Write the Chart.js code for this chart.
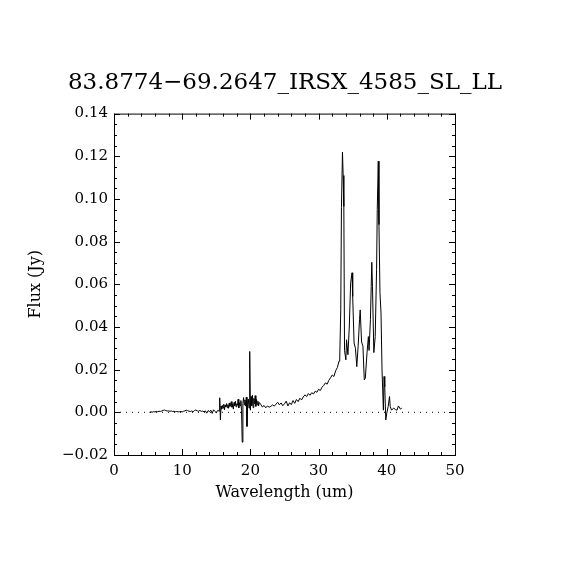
<!DOCTYPE html>
<html>
<head>
<meta charset="utf-8">
<script src="https://cdn.jsdelivr.net/npm/chart.js@4/dist/chart.umd.min.js"></script>
<style>
  html, body { margin: 0; padding: 0; background: #fff; }
  #chart { display: block; }
</style>
</head>
<body>
<canvas id="chart" width="570" height="570"></canvas>
<script>
// spectrum
const wavelength = [
    5.2, 5.4, 5.6, 5.8, 6.0, 6.2, 6.4, 6.6, 6.8, 7.0, 7.2, 7.4, 7.6, 7.8, 8.0, 8.2, 8.4, 8.6, 8.8, 9.0,
    9.2, 9.4, 9.6, 9.8, 10.0, 10.2, 10.4, 10.6, 10.8, 11.0, 11.2, 11.4, 11.6, 11.8, 12.0, 12.2, 12.4, 12.6,
    12.8, 13.0, 13.2, 13.4, 13.6, 13.8, 14.0, 14.2, 14.4, 14.6, 14.8, 15.0, 15.2, 15.4,
    15.5, 15.6, 15.7, 15.8, 15.9, 16.0, 16.1, 16.2, 16.3, 16.4, 16.5, 16.6, 16.7, 16.8, 16.9, 17.0,
    17.1, 17.2, 17.3, 17.4, 17.5, 17.6, 17.7, 17.8, 17.9, 18.0, 18.1, 18.2, 18.3, 18.4, 18.5, 18.6,
    18.7, 18.8, 18.9, 19.0, 19.1, 19.2, 19.3, 19.4, 19.5, 19.6, 19.7, 19.8, 19.9, 20.0, 20.1, 20.2,
    20.3, 20.4, 20.5, 20.6, 20.7, 20.8, 20.9, 21.0, 21.1, 21.2, 21.3,
    21.5, 21.75, 22.0, 22.25, 22.5, 22.75, 23.0, 23.25, 23.5, 23.75, 24.0, 24.25, 24.5, 24.75, 25.0,
    25.25, 25.5, 25.75, 26.0, 26.25, 26.5, 26.75, 27.0, 27.25, 27.5, 27.75, 28.0, 28.25, 28.5, 28.75,
    29.0, 29.25, 29.5, 29.75, 30.0, 30.25, 30.5, 30.75, 31.0, 31.25, 31.5, 31.75, 32.0, 32.25, 32.5,
    32.75, 33.0,
    33.1, 33.25, 33.35, 33.5, 33.6, 33.7, 33.8, 34.0, 34.1, 34.3, 34.5, 34.7, 34.9, 35.0, 35.2, 35.4,
    35.6, 35.8, 36.0, 36.1, 36.3, 36.5, 36.7, 36.85, 37.1, 37.3, 37.4, 37.6, 37.8, 37.9, 38.1, 38.3,
    38.5, 38.6, 38.75, 38.85, 39.0, 39.15, 39.3, 39.5, 39.6, 39.7, 39.85, 40.0, 40.2, 40.4, 40.5, 40.7,
    41.0, 41.3, 41.5, 41.7, 42.0, 42.2
];
const flux = [
    0.0000, 0.0002, 0.0001, 0.0003, 0.0002, 0.0004, 0.0003, 0.0005, 0.0004, 0.0006, 0.0009, 0.0011,
    0.0008, 0.0006, 0.0007, 0.0005, 0.0006, 0.0004, 0.0005, 0.0003, 0.0004, 0.0002, 0.0003, 0.0004,
    0.0002, 0.0005, 0.0007, 0.0010, 0.0008, 0.0005, 0.0004, 0.0006, 0.0003, 0.0008, 0.0011, 0.0007,
    0.0005, 0.0009, 0.0004, 0.0006, 0.0002, 0.0007, -0.0004, 0.0008, 0.0003, 0.0010, -0.0005, 0.0012,
    0.0004, -0.0002, 0.0009, 0.0006,
    0.0068, -0.0035, 0.0030, 0.0015, 0.0032, 0.0020, 0.0038, 0.0012, 0.0034, 0.0025, 0.0041, 0.0022,
    0.0036, 0.0019, 0.0044, 0.0028, 0.0035, 0.0050, 0.0024, 0.0039, 0.0015, 0.0046, 0.0030, 0.0052,
    0.0026, 0.0040, 0.0033, 0.0061, 0.0021, 0.0045, 0.0031, 0.0055, 0.0008, -0.0140, 0.0042, 0.0069,
    0.0035, 0.0058, 0.0029, 0.0071, -0.0066, 0.0040, 0.0062, 0.0020, 0.0285, 0.0010, 0.0074, 0.0031,
    0.0080, 0.0022, 0.0065, 0.0040, 0.0078, 0.0028, 0.0060, 0.0035, 0.0052, 0.0030, 0.0046,
    0.0038, 0.0025, 0.0032, 0.0021, 0.0030, 0.0024, 0.0028, 0.0035, 0.0029, 0.0038, 0.0047, 0.0035,
    0.0044, 0.0031, 0.0040, 0.0052, 0.0030, 0.0045, 0.0036, 0.0055, 0.0042, 0.0060, 0.0050, 0.0066,
    0.0058, 0.0072, 0.0082, 0.0074, 0.0088, 0.0080, 0.0092, 0.0086, 0.0099, 0.0094, 0.0108, 0.0102,
    0.0118, 0.0126, 0.0138, 0.0132, 0.0150, 0.0162, 0.0175, 0.0168, 0.0195, 0.0210, 0.0240,
    0.0255, 0.0480, 0.0960, 0.1220, 0.1110, 0.0965, 0.0290, 0.0246, 0.0340, 0.0270, 0.0400, 0.0607,
    0.0654, 0.0543, 0.0325, 0.0300, 0.0214, 0.0310, 0.0434, 0.0480, 0.0330, 0.0310, 0.0152, 0.0160,
    0.0279, 0.0355, 0.0290, 0.0434, 0.0703, 0.0590, 0.0280, 0.0355, 0.0668, 0.0950, 0.1177, 0.0880,
    0.0560, 0.0466, 0.0199, 0.0010, 0.0168, 0.0120, -0.0036, -0.0003, 0.0027, 0.0074, 0.0027, 0.0010,
    0.0020, 0.0012, 0.0010, 0.0030, 0.0015, 0.0020
];

// dotted zero line
const zeroX = [0, 50];
const zeroY = [0, 0];

const xTicks = [0, 10, 20, 30, 40, 50];
const yTicks = [-0.02, 0.00, 0.02, 0.04, 0.06, 0.08, 0.10, 0.12, 0.14];

const FONT = '"DejaVu Serif", serif';

// рамка с тиками внутрь по всем четырём сторонам
const frameTicks = {
    id: 'frameTicks',
    afterDraw(chart) {
        const { ctx, chartArea: a, scales: { x, y } } = chart;
        ctx.save();
        ctx.strokeStyle = '#000';
        ctx.lineWidth = 1;
        ctx.strokeRect(a.left + 0.5, a.top + 0.5, a.right - a.left, a.bottom - a.top);
        ctx.beginPath();
        for (let v = 0; v <= 50; v += 2) {
            const px = Math.round(x.getPixelForValue(v)) + 0.5;
            const len = v % 10 === 0 ? 6 : 3;
            ctx.moveTo(px, a.bottom); ctx.lineTo(px, a.bottom - len);
            ctx.moveTo(px, a.top); ctx.lineTo(px, a.top + len);
        }
        for (let i = 0; i <= 32; i++) {
            const v = -0.02 + i * 0.005;
            const py = Math.round(y.getPixelForValue(v)) + 0.5;
            const len = i % 4 === 0 ? 6 : 3;
            ctx.moveTo(a.left, py); ctx.lineTo(a.left + len, py);
            ctx.moveTo(a.right, py); ctx.lineTo(a.right - len, py);
        }
        ctx.stroke();
        ctx.restore();
    }
};

new Chart(document.getElementById('chart'), {
    type: 'line',
    data: {
        datasets: [{
            data: wavelength.map((w, i) => ({ x: w, y: flux[i] })),
            borderColor: '#000',
            borderWidth: 1,
            pointRadius: 0,
            tension: 0
        }, {
            data: zeroX.map((w, i) => ({ x: w, y: zeroY[i] })),
            borderColor: '#000',
            borderWidth: 1,
            borderDash: [1, 5],
            pointRadius: 0
        }]
    },
    options: {
        responsive: false,
        animation: false,
        layout: { padding: 0 },
        plugins: {
            legend: { display: false },
            tooltip: { enabled: false },
            title: {
                display: true,
                text: '83.8774\u221269.2647_IRSX_4585_SL_LL',
                color: '#000',
                font: { family: FONT, size: 23, weight: 'normal' },
                padding: { top: 69, bottom: 17 }
            }
        },
        scales: {
            x: {
                type: 'linear',
                min: 0,
                max: 50,
                afterBuildTicks: s => { s.ticks = xTicks.map(v => ({ value: v })); },
                ticks: { color: '#000', font: { family: FONT, size: 15 }, padding: 7, maxRotation: 0 },
                grid: { display: false, drawTicks: false },
                border: { display: false },
                title: {
                    display: true,
                    text: 'Wavelength (um)',
                    color: '#000',
                    font: { family: FONT, size: 16 },
                    padding: { top: 0, bottom: 68 }
                },
                afterFit: s => { s.height = 115; }
            },
            y: {
                type: 'linear',
                min: -0.02,
                max: 0.14,
                afterBuildTicks: s => { s.ticks = yTicks.map(v => ({ value: v })); },
                ticks: {
                    color: '#000',
                    font: { family: FONT, size: 15 },
                    padding: 6,
                    callback: v => v.toFixed(2).replace('-', '\u2212')
                },
                grid: { display: false, drawTicks: false },
                border: { display: false },
                title: {
                    display: true,
                    text: 'Flux (Jy)',
                    color: '#000',
                    font: { family: FONT, size: 16 },
                    padding: { top: 26, bottom: 0 }
                },
                afterFit: s => { s.width = 114; }
            },
            y2: {
                type: 'linear',
                position: 'right',
                min: -0.02,
                max: 0.14,
                ticks: { display: false },
                grid: { display: false, drawTicks: false },
                border: { display: false },
                afterFit: s => { s.width = 115; }
            }
        }
    },
    plugins: [frameTicks]
});
</script>
</body>
</html>
